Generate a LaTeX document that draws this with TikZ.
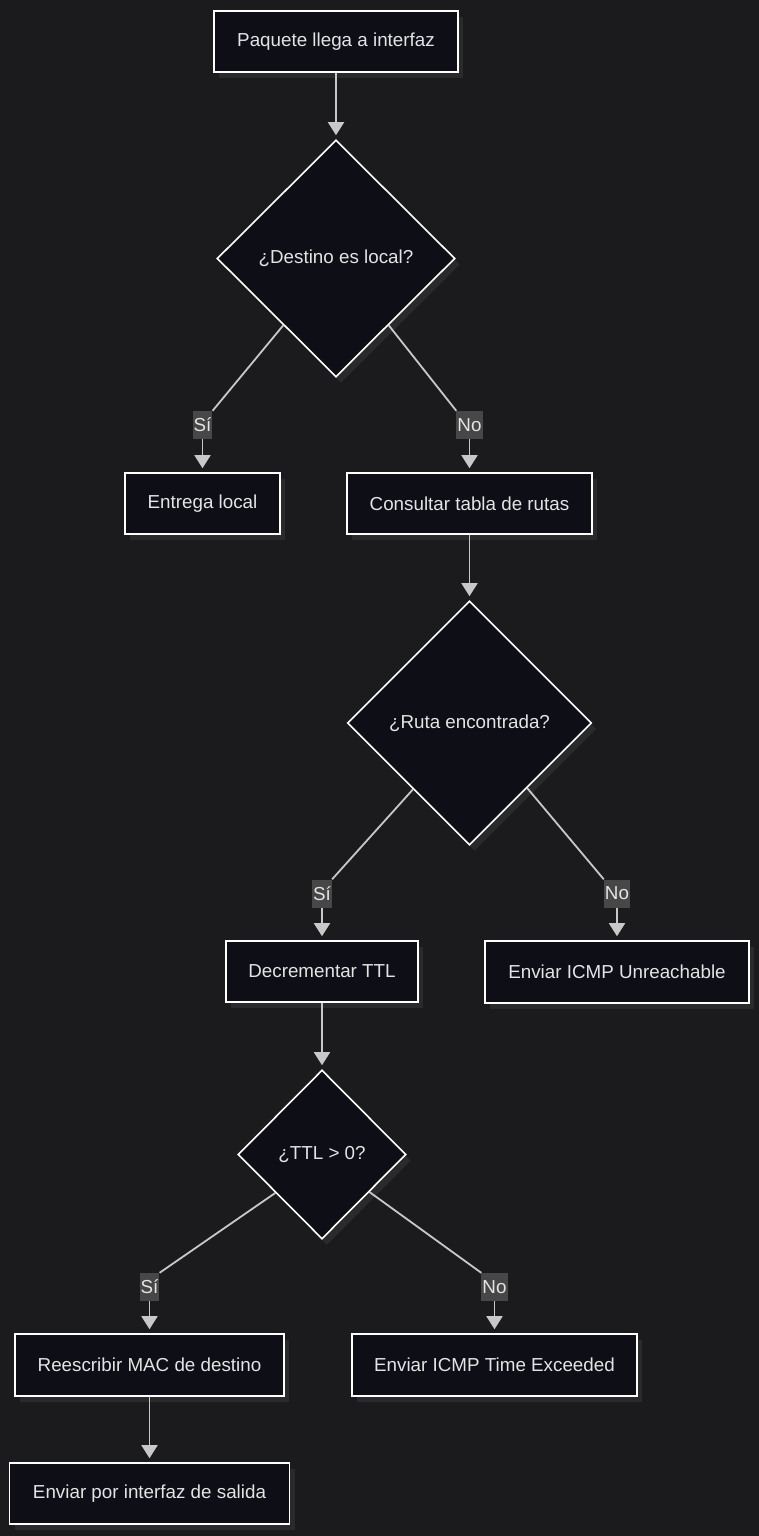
\documentclass[tikz,border=0pt]{standalone}
\usepackage{fontspec}
\setmainfont{Liberation Sans}
\usetikzlibrary{shapes.geometric,arrows.meta,calc,shadows}
\definecolor{bgc}{HTML}{1B1B1D}
\definecolor{nodefill}{HTML}{0D0E16}
\definecolor{shadowc}{HTML}{2A2A2C}
\definecolor{edgec}{HTML}{C8C8C8}
\definecolor{txtc}{HTML}{E4E4E4}
\definecolor{lblbg}{HTML}{474747}
\tikzset{
  base/.style={draw=white, line width=1.6pt, fill=nodefill, text=txtc,
    font=\fontsize{18.8}{22}\selectfont, inner sep=0pt,
    drop shadow={shadow xshift=5pt, shadow yshift=-6pt, fill=shadowc, opacity=1}},
  procbox/.style={base, rectangle},
  decision/.style={base, diamond, aspect=1},
  lbl/.style={fill=lblbg, text=txtc, font=\fontsize{18.8}{22}\selectfont,
    inner xsep=1pt, inner ysep=0pt, minimum height=28pt},
  conn/.style={draw=edgec, line width=1.8pt},
  arr/.style={conn, -{Triangle[width=16pt,length=13pt]}, shorten >=4pt},
}
\begin{document}
\begin{tikzpicture}[x=1pt,y=-1pt]
\fill[bgc] (0,0) rectangle (759,1536);
\useasboundingbox (0,0) rectangle (759,1536);

% nodes
\node[procbox, minimum width=244pt, minimum height=61pt] (start) at (336,41.5) {Paquete llega a interfaz};
\node[decision, minimum width=238pt, minimum height=237pt] (d1) at (336,258.5) {¿Destino es local?};
\node[procbox, minimum width=155pt, minimum height=61pt] (local) at (202.5,503.5) {Entrega local};
\node[procbox, minimum width=245pt, minimum height=61pt] (tabla) at (469.5,503.5) {Consultar tabla de rutas};
\node[decision, minimum width=244pt, minimum height=244pt] (d2) at (469.5,723) {¿Ruta encontrada?};
\node[procbox, minimum width=192pt, minimum height=61pt] (ttl) at (322,971.5) {Decrementar TTL};
\node[procbox, minimum width=264pt, minimum height=62pt] (unr) at (617,972) {Enviar ICMP Unreachable};
\node[decision, minimum width=168pt, minimum height=169pt] (d3) at (322,1154.5) {¿TTL > 0?};
\node[procbox, minimum width=269pt, minimum height=62pt] (mac) at (149.5,1365) {Reescribir MAC de destino};
\node[procbox, minimum width=285pt, minimum height=62pt] (tex) at (494.5,1365) {Enviar ICMP Time Exceeded};
\node[procbox, minimum width=280pt, minimum height=61pt] (out) at (149.5,1493.5) {Enviar por interfaz de salida};

% labels
\node[lbl] (l1) at (202.5,425) {Sí};
\node[lbl] (l2) at (469.5,425) {No};
\node[lbl] (l3) at (322,893.5) {Sí};
\node[lbl] (l4) at (617,893.5) {No};
\node[lbl] (l5) at (149.5,1287) {Sí};
\node[lbl] (l6) at (494.5,1287) {No};

% exit points on diamonds
\coordinate (d1l) at ($(d1.west)!0.56!(d1.south)$);
\coordinate (d1r) at ($(d1.east)!0.56!(d1.south)$);
\coordinate (d2l) at ($(d2.west)!0.54!(d2.south)$);
\coordinate (d2r) at ($(d2.east)!0.53!(d2.south)$);
\coordinate (d3l) at ($(d3.west)!0.45!(d3.south)$);
\coordinate (d3r) at ($(d3.east)!0.44!(d3.south)$);

% connectors
\draw[arr] (start.south) -- (d1.north);
\draw[conn] (d1l) -- (l1.north east);
\draw[arr] (l1.south) -- (local.north);
\draw[conn] (d1r) -- (l2.north west);
\draw[arr] (l2.south) -- (tabla.north);
\draw[arr] (tabla.south) -- (d2.north);
\draw[conn] (d2l) -- (l3.north east);
\draw[arr] (l3.south) -- (ttl.north);
\draw[conn] (d2r) -- (l4.north west);
\draw[arr] (l4.south) -- (unr.north);
\draw[arr] (ttl.south) -- (d3.north);
\draw[conn] (d3l) -- (l5.north east);
\draw[arr] (l5.south) -- (mac.north);
\draw[conn] (d3r) -- (l6.north west);
\draw[arr] (l6.south) -- (tex.north);
\draw[arr] (mac.south) -- (out.north);
\end{tikzpicture}
\end{document}
